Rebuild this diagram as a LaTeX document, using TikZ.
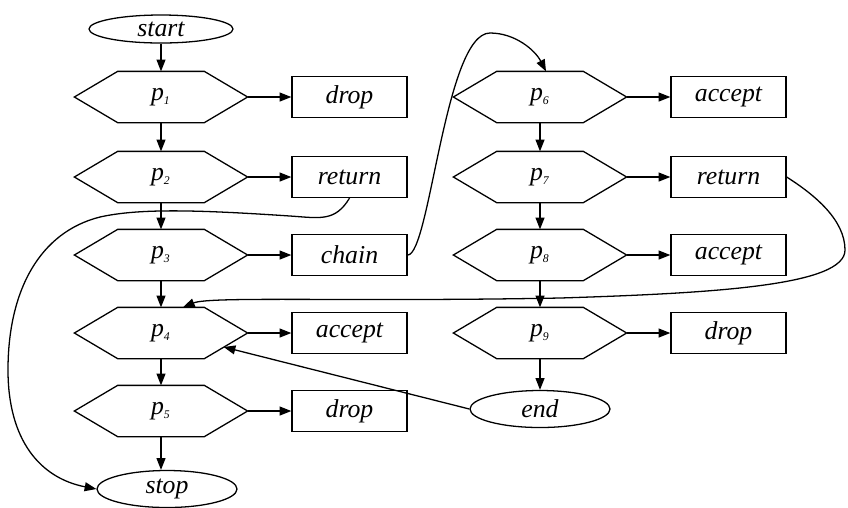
\documentclass[tikz,border=0pt]{standalone}
\usepackage{fontspec}
\setmainfont{Liberation Serif}
\usetikzlibrary{arrows.meta,calc,shapes.geometric}

\tikzset{
	hexa/.style={rectangle, inner sep=0pt, minimum width=2.58cm, minimum height=0.75cm},
	box/.style={draw, rectangle, inner sep=0pt, minimum width=1.725cm, minimum height=0.615cm},
	term/.style={draw, ellipse, inner sep=0pt, minimum width=2.1cm, minimum height=0.555cm},
	arr/.style={-{Triangle[length=5pt,width=3.8pt]}}
}

\begin{document}
\begin{tikzpicture}[x=0.015cm, y=-0.015cm, line width=0.55pt, font=\fontsize{11}{13}\selectfont\itshape]
	\useasboundingbox (0,0) rectangle (848,507);

	\node[term, minimum width=2.16cm, minimum height=0.42cm] (start) at (161,29) {start};
	\node[term] (stop) at (167,489) {stop};
	\node[term] (end) at (540,409) {end};

	\foreach \i/\y/\t in {1/97/drop, 2/177/return, 3/255/chain, 4/333/accept, 5/411/drop} {
		\node[hexa] (p\i) at (161,\y) {p\textsubscript{\tiny\i}};
		\node[box] (b\i) at (349.5,\y) {\t};
	}
	\foreach \i/\y/\t in {6/97/accept, 7/177/return, 8/255/accept, 9/333/drop} {
		\node[hexa] (p\i) at (540,\y) {p\textsubscript{\tiny\i}};
		\node[box] (b\i) at (728.5,\y) {\t};
	}

	% hexagon outlines
	\foreach \i in {1,...,9} {
		\draw (p\i.west) -- ($(p\i.north west)!.25!(p\i.north east)$) -- ($(p\i.north west)!.75!(p\i.north east)$)
			-- (p\i.east) -- ($(p\i.south west)!.75!(p\i.south east)$) -- ($(p\i.south west)!.25!(p\i.south east)$) -- cycle;
		\draw[arr] (p\i) -- (b\i);
	}

	\draw[arr] (start) -- (p1);
	\foreach \a/\b in {p1/p2, p2/p3, p3/p4, p4/p5, p6/p7, p7/p8, p8/p9, p9/end}
		\draw[arr] (\a) -- (\b);
	\draw[arr] (p5) -- (p5 |- stop.north);

	% jumps between the two chains
	\draw[arr] (b2.south) .. controls (335,222) and (320,218) .. (290,216)
		.. controls (200,210) and (140,208) .. (100,217)
		.. controls (40,232) and (8,290) .. (8,370)
		.. controls (8,440) and (40,478) .. (stop.west);
	\draw[arr] (b3.east) .. controls (430,255) and (445,33) .. (490,33)
		.. controls (515,33) and (535,50) .. ($(p6.north)+(6,0)$);
	\draw[arr] (b7.east) .. controls (815,195) and (845,220) .. (845,250)
		.. controls (845,285) and (720,293) .. (560,298)
		.. controls (350,302) and (210,296) .. ($(p4.north)+(22,0)$);
	\draw[arr] (end.west) -- ($(p4.east)+(-24,14)$);
\end{tikzpicture}
\end{document}
